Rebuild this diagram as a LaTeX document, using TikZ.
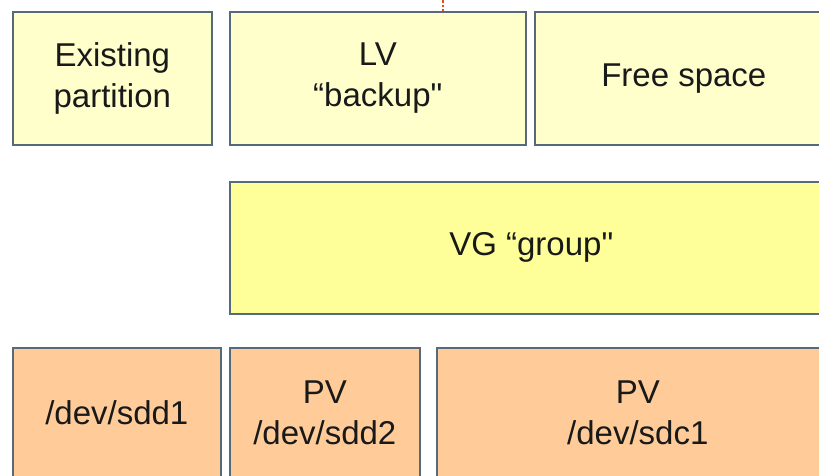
\documentclass[tikz,border=0pt]{standalone}
\usepackage{fontspec}
\setmainfont{Liberation Sans}[Ligatures=TeXOff]
\definecolor{bordercol}{HTML}{566A7C}
\definecolor{paleyel}{HTML}{FFFFCC}
\definecolor{vgyel}{HTML}{FFFF99}
\definecolor{pvorange}{HTML}{FFCC99}
\definecolor{dotred}{HTML}{E0501A}
\begin{document}
\begin{tikzpicture}[x=1pt,y=-1pt,
  box/.style={draw=bordercol, line width=1.6pt, inner sep=0pt, align=center,
    font=\fontsize{33}{41}\selectfont, anchor=north west, text=black!90},
  lvbox/.style={box, fill=paleyel},
  vgbox/.style={box, fill=vgyel},
  pvbox/.style={box, fill=pvorange}]
\useasboundingbox (0,0) rectangle (819,475);
\clip (0,0) rectangle (819,475);
\fill[white] (0,0) rectangle (819,475);
\node[lvbox, minimum width=199pt, minimum height=133pt] (exist) at (12,11) {Existing\\partition};
\node[lvbox, minimum width=296pt, minimum height=133pt] (lv) at (229,11) {LV\\“backup"};
\node[lvbox, minimum width=298pt, minimum height=133pt] (free) at (534,11) {Free space};
\node[vgbox, minimum width=603pt, minimum height=132pt] (vg) at (229,181) {VG “group"};
\node[pvbox, minimum width=208pt, minimum height=130pt] (sdd1) at (12,347) {/dev/sdd1};
\node[pvbox, minimum width=190pt, minimum height=130pt] (sdd2) at (229,347) {PV\\/dev/sdd2};
\node[pvbox, minimum width=402pt, minimum height=130pt] (sdc1) at (436,347) {PV\\/dev/sdc1};
\coordinate (topc) at (443,0);
\draw[dotred, line width=2.2pt, dash pattern=on 2.5pt off 2pt] (topc) -- (topc |- lv.north);
\end{tikzpicture}
\end{document}
